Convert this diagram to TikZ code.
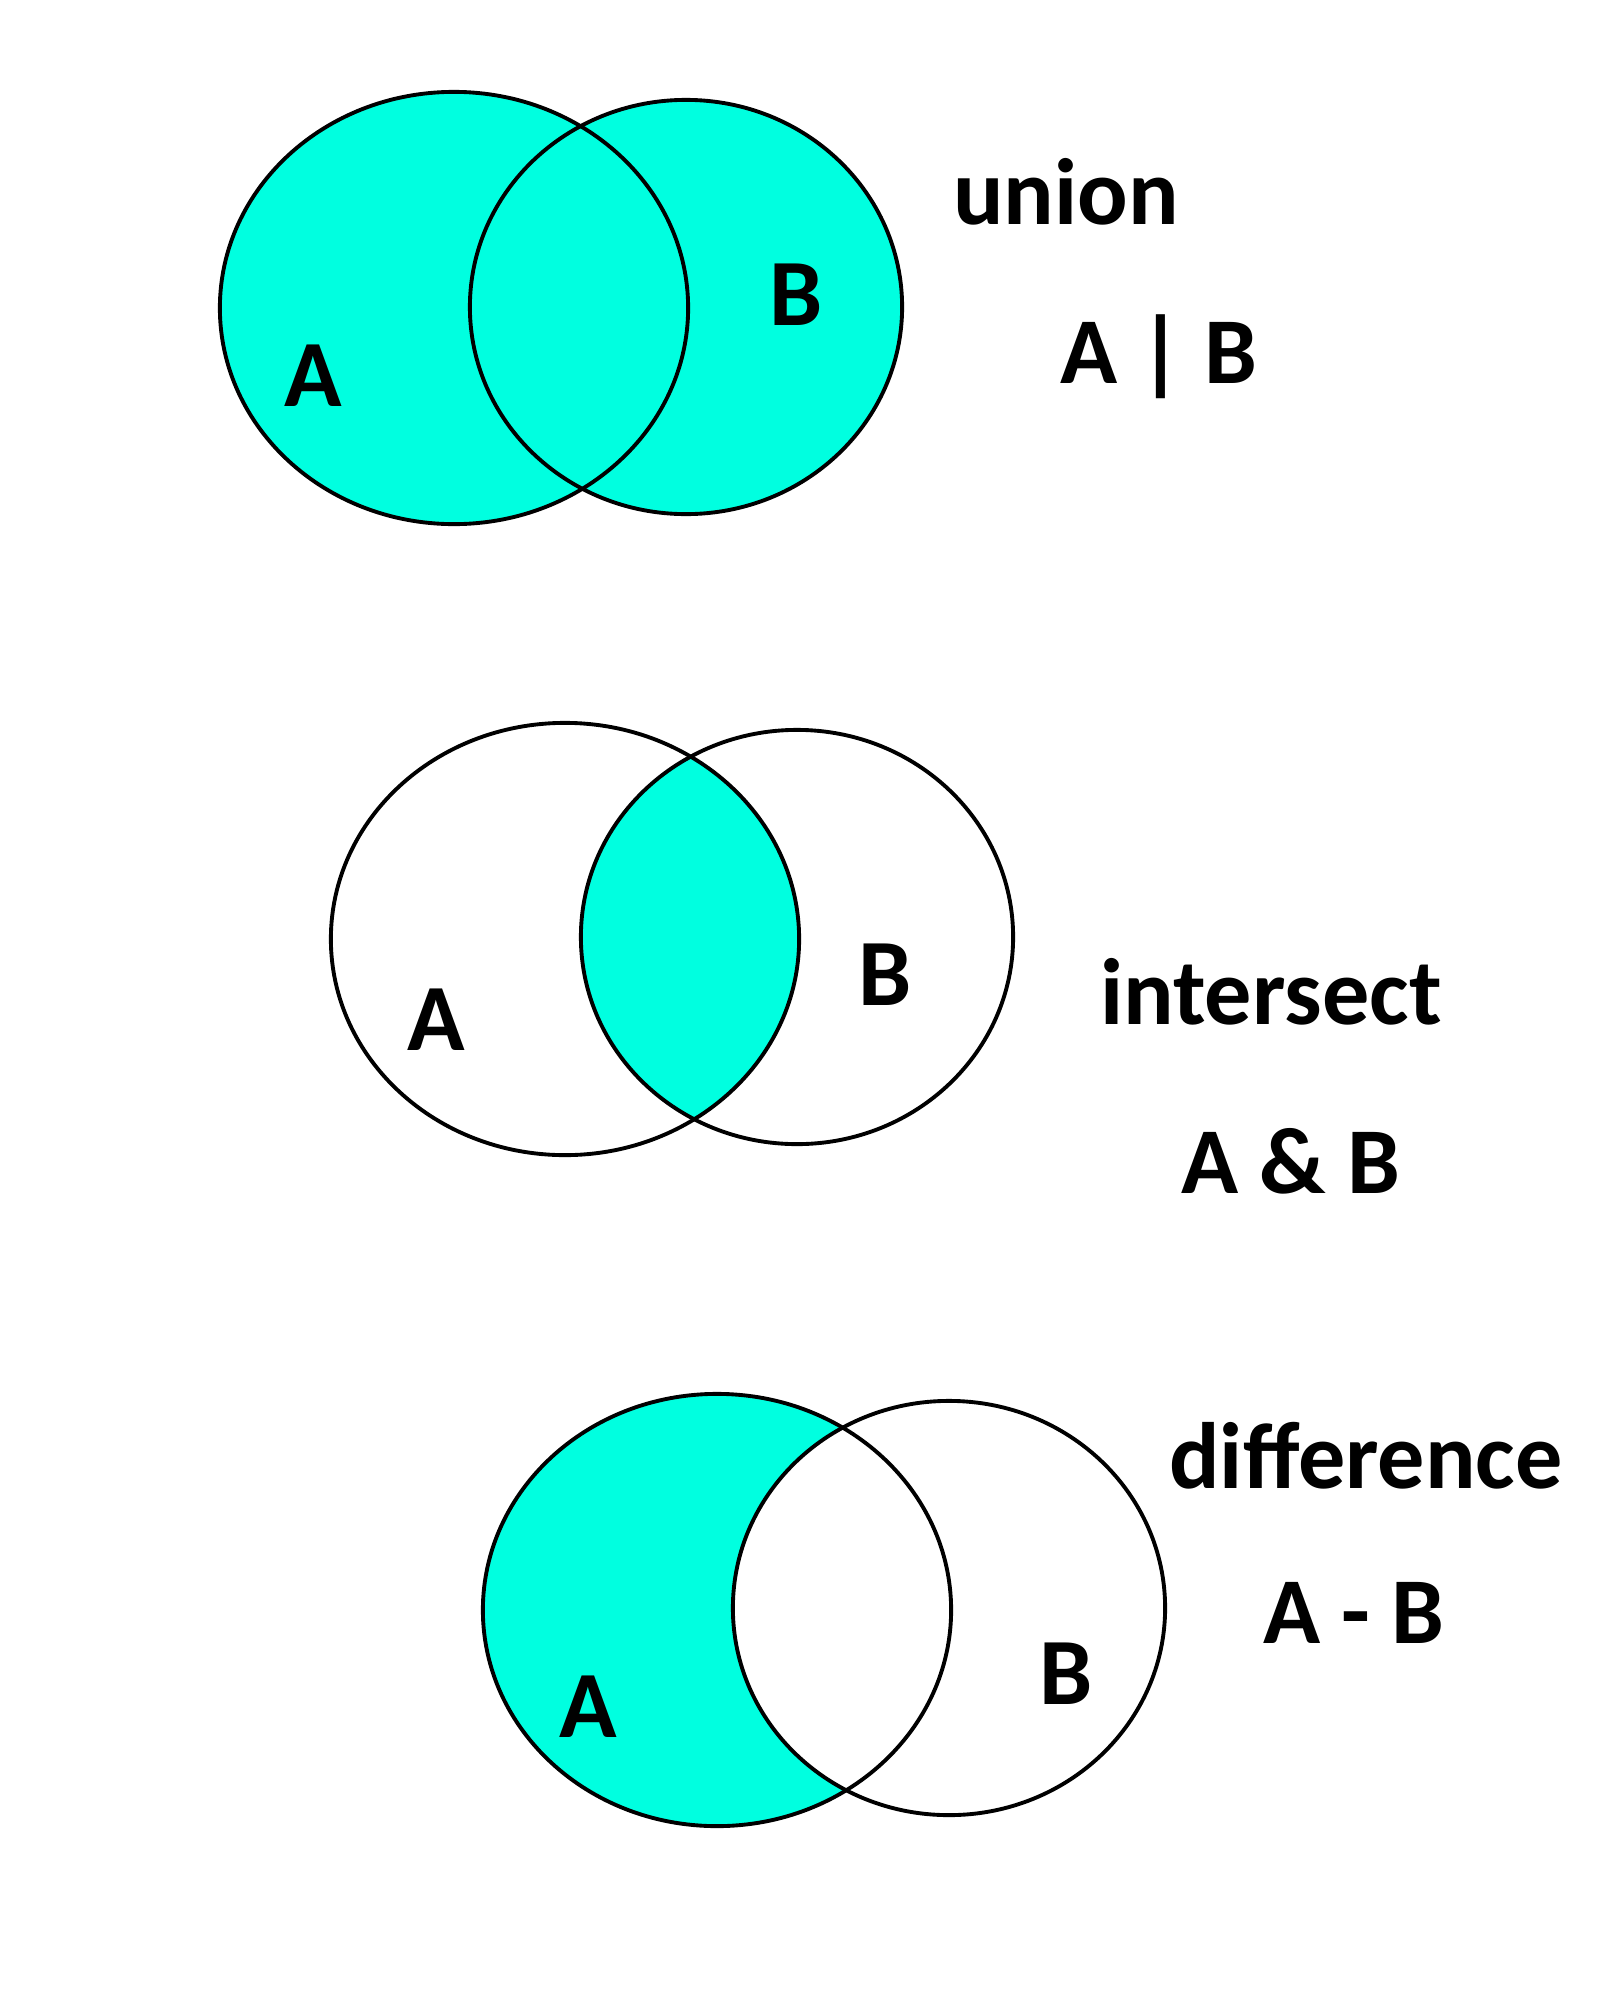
\documentclass[tikz,border=0pt]{standalone}
\usepackage{fontspec}
\setmainfont{Carlito}
\definecolor{vennfill}{HTML}{00FFE0}
\tikzstyle{setline}=[line width=1.1pt, draw=black]
\tikzstyle{setname}=[inner sep=0, font=\fontsize{27}{30}\selectfont\bfseries]
\tikzstyle{opname}=[inner sep=0, font=\fontsize{26.8}{30}\selectfont\bfseries]

\begin{document}
\begin{tikzpicture}[x=0.01cm, y=-0.01cm]

\useasboundingbox [fill=white] (0, 0) rectangle (1600, 2012);

\fill [vennfill] (454, 308) ellipse [x radius=2.34cm, y radius=2.16cm];
\fill [vennfill] (686, 307) ellipse [x radius=2.16cm, y radius=2.07cm];
\draw [setline] (454, 308) ellipse [x radius=2.34cm, y radius=2.16cm];
\draw [setline] (686, 307) ellipse [x radius=2.16cm, y radius=2.07cm];

\node [setname] (uA) at (313, 376) {A};
\node [setname] (uB) at (796, 295) {B};
\node [opname] (uname) at (1066, 192) {union};
\node [opname] (uop) at (1159, 357) {A | B};

\begin{scope}
\clip (565, 939) ellipse [x radius=2.34cm, y radius=2.16cm];
\fill [vennfill] (797, 937) ellipse [x radius=2.16cm, y radius=2.07cm];
\end{scope}
\draw [setline] (565, 939) ellipse [x radius=2.34cm, y radius=2.16cm];
\draw [setline] (797, 937) ellipse [x radius=2.16cm, y radius=2.07cm];

\node [setname] (iA) at (436, 1020) {A};
\node [setname] (iB) at (885, 975) {B};
\node [opname] (iname) at (1271, 992) {intersect};
\node [opname] (iop) at (1291, 1161) {A \& B};

\fill [vennfill, even odd rule] (717, 1610) ellipse [x radius=2.34cm, y radius=2.16cm]
  (949, 1608) ellipse [x radius=2.16cm, y radius=2.07cm];
\fill [white] (949, 1608) ellipse [x radius=2.16cm, y radius=2.07cm];
\draw [setline] (717, 1610) ellipse [x radius=2.34cm, y radius=2.16cm];
\draw [setline] (949, 1608) ellipse [x radius=2.16cm, y radius=2.07cm];

\node [setname] (dA) at (588, 1707) {A};
\node [setname] (dB) at (1066, 1674) {B};
\node [opname] (dname) at (1366, 1456) {difference};
\node [opname] (dop) at (1354, 1613) {A - B};

\end{tikzpicture}
\end{document}
